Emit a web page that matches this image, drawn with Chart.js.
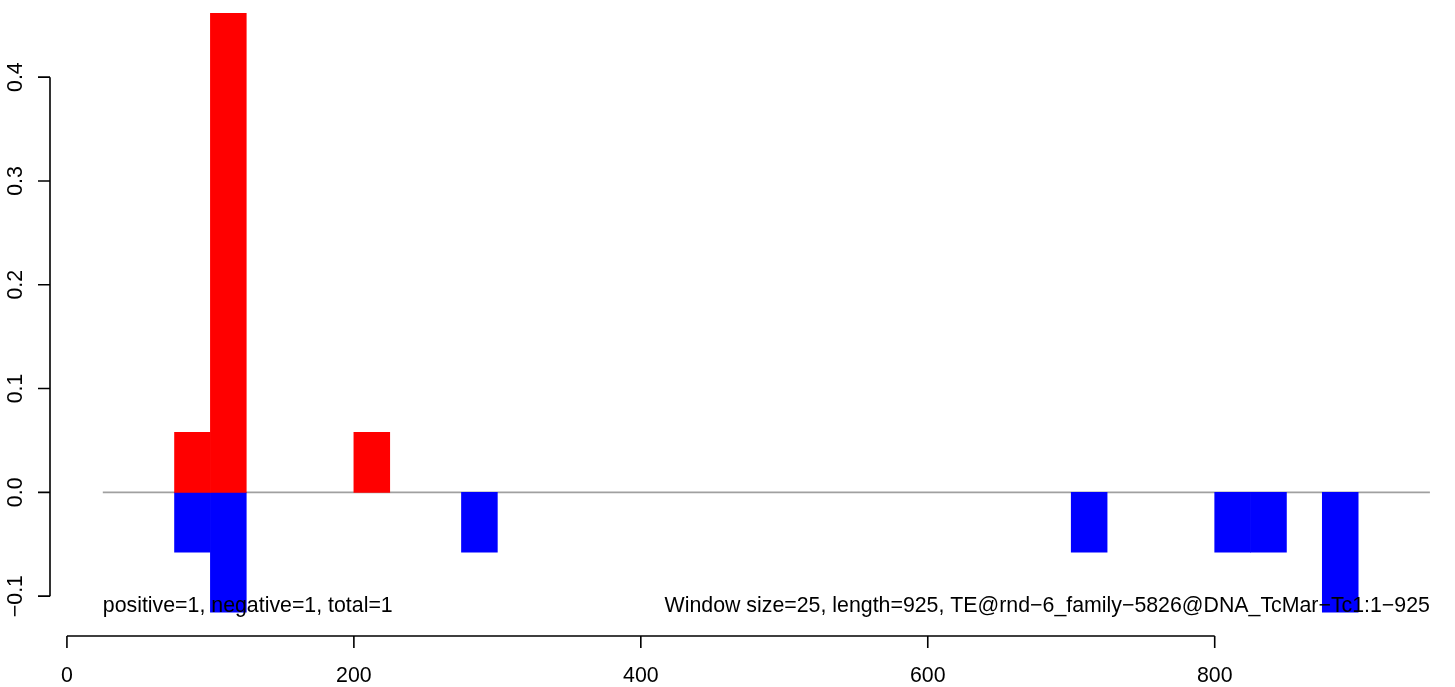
<!DOCTYPE html>
<html>
<head>
<meta charset="utf-8">
<script src="https://cdn.jsdelivr.net/npm/chart.js@4.4.1/dist/chart.umd.min.js"></script>
<style>
  html, body { margin: 0; padding: 0; background: #fff; }
  #wrap { width: 1455px; height: 687px; }
</style>
</head>
<body>
<div id="wrap"><canvas id="myChart" width="1455" height="687"></canvas></div>
<script>
// window centres (bp) and scores, window size 25
const posX = [87.5, 112.5, 212.5];
const posY = [0.0577, 0.4615, 0.0577];
const negX = [87.5, 112.5, 287.5, 712.5, 812.5, 837.5, 887.5];
const negY = [-0.0577, -0.1154, -0.0577, -0.0577, -0.0577, -0.0577, -0.1154];

const xTicks = [0, 200, 400, 600, 800];
const yTicks = [-0.1, 0.0, 0.1, 0.2, 0.3, 0.4];
const yTickLabels = ['\u22120.1', '0.0', '0.1', '0.2', '0.3', '0.4'];
const baseRange = [25, 950];

const leftNote = 'positive=1, negative=1, total=1';
const rightNote = 'Window size=25, length=925, TE@rnd\u22126_family\u22125826@DNA_TcMar\u2212Tc1:1\u2212925';
const noteY = -0.11;

const FONT = '21.33px "Liberation Sans", Arial, sans-serif';

const rAxes = {
    id: 'rAxes',
    beforeDatasetsDraw(chart) {
        const ctx = chart.ctx, xs = chart.scales.x, ys = chart.scales.y;
        ctx.save();
        ctx.strokeStyle = '#a0a0a0';
        ctx.lineWidth = 1.6;
        ctx.beginPath();
        ctx.moveTo(xs.getPixelForValue(baseRange[0]), ys.getPixelForValue(0));
        ctx.lineTo(xs.getPixelForValue(baseRange[1]), ys.getPixelForValue(0));
        ctx.stroke();
        ctx.restore();
    },
    afterDraw(chart) {
        const ctx = chart.ctx, xs = chart.scales.x, ys = chart.scales.y;
        const area = chart.chartArea;
        ctx.save();
        ctx.strokeStyle = '#000';
        ctx.fillStyle = '#000';
        ctx.lineWidth = 1.6;
        ctx.font = FONT;

        // x axis
        const yb = area.bottom;
        ctx.beginPath();
        ctx.moveTo(xs.getPixelForValue(xTicks[0]), yb);
        ctx.lineTo(xs.getPixelForValue(xTicks[xTicks.length - 1]), yb);
        xTicks.forEach(v => {
            const px = xs.getPixelForValue(v);
            ctx.moveTo(px, yb);
            ctx.lineTo(px, yb + 12);
        });
        ctx.stroke();
        ctx.textAlign = 'center';
        ctx.textBaseline = 'alphabetic';
        xTicks.forEach(v => ctx.fillText(String(v), xs.getPixelForValue(v), 682));

        // y axis
        const xl = area.left;
        ctx.beginPath();
        ctx.moveTo(xl, ys.getPixelForValue(yTicks[0]));
        ctx.lineTo(xl, ys.getPixelForValue(yTicks[yTicks.length - 1]));
        yTicks.forEach(v => {
            const py = ys.getPixelForValue(v);
            ctx.moveTo(xl, py);
            ctx.lineTo(xl - 12, py);
        });
        ctx.stroke();
        yTicks.forEach((v, i) => {
            ctx.save();
            ctx.translate(22, ys.getPixelForValue(v));
            ctx.rotate(-Math.PI / 2);
            ctx.textAlign = 'center';
            ctx.fillText(yTickLabels[i], 0, 0);
            ctx.restore();
        });

        // notes
        ctx.textBaseline = 'middle';
        ctx.textAlign = 'left';
        ctx.fillText(leftNote, xs.getPixelForValue(baseRange[0]), ys.getPixelForValue(noteY));
        ctx.textAlign = 'right';
        ctx.fillText(rightNote, xs.getPixelForValue(baseRange[1]), ys.getPixelForValue(noteY));
        ctx.restore();
    }
};

const ctx = document.getElementById('myChart').getContext('2d');
new Chart(ctx, {
    type: 'bar',
    data: {
        datasets: [
            {
                label: 'positive',
                data: posX.map((x, i) => ({ x: x, y: posY[i] })),
                backgroundColor: '#ff0000',
                borderWidth: 0,
                stack: 's',
                barPercentage: 1,
                categoryPercentage: 1
            },
            {
                label: 'negative',
                data: negX.map((x, i) => ({ x: x, y: negY[i] })),
                backgroundColor: '#0000ff',
                borderWidth: 0,
                stack: 's',
                barPercentage: 1,
                categoryPercentage: 1
            }
        ]
    },
    options: {
        responsive: false,
        animation: false,
        layout: { padding: { left: 50, right: 5, top: 0, bottom: 51 } },
        plugins: { legend: { display: false }, tooltip: { enabled: false } },
        scales: {
            x: {
                type: 'linear',
                display: false,
                offset: false,
                min: -11.8,
                max: 964,
                afterBuildTicks: s => { s.ticks = xTicks.map(v => ({ value: v })); }
            },
            y: {
                type: 'linear',
                display: false,
                stacked: true,
                min: -0.1384,
                max: 0.4743
            }
        }
    },
    plugins: [rAxes]
});
</script>
</body>
</html>
